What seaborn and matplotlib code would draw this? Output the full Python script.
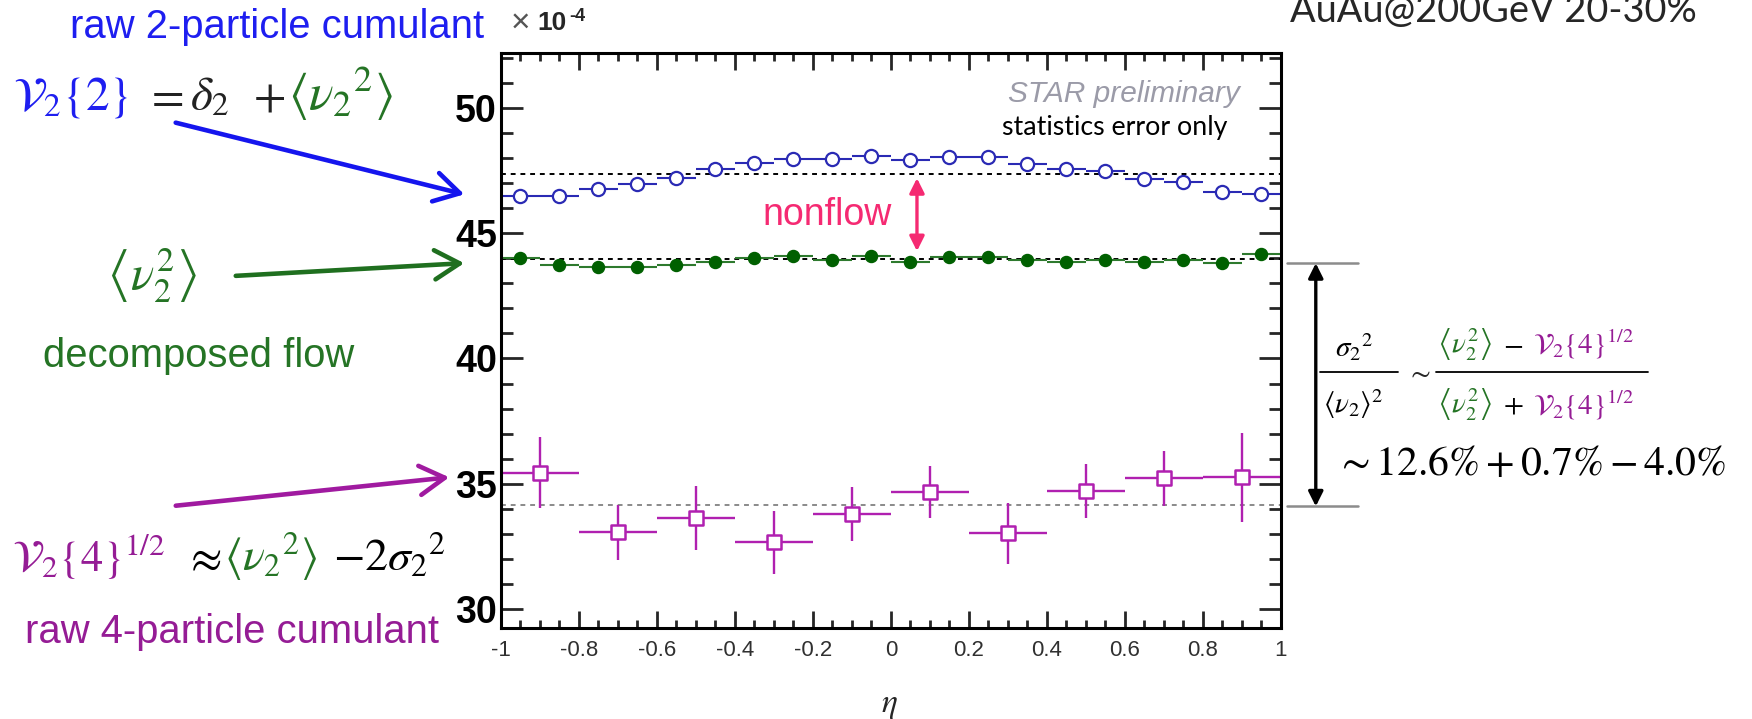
import numpy as np
import pandas as pd
import matplotlib
matplotlib.use("Agg")
import matplotlib.pyplot as plt
import matplotlib.transforms as mtransforms
from matplotlib.lines import Line2D
from matplotlib.patches import FancyArrowPatch
import seaborn as sns

# ---- data -----------------------------------------------------------------
eta_fine = [-0.95, -0.85, -0.75, -0.65, -0.55, -0.45, -0.35, -0.25, -0.15, -0.05,
            0.05, 0.15, 0.25, 0.35, 0.45, 0.55, 0.65, 0.75, 0.85, 0.95]
v2_2 = [46.48, 46.48, 46.77, 46.95, 47.21, 47.57, 47.80, 47.95, 47.95, 48.08,
        47.91, 48.02, 48.02, 47.75, 47.57, 47.47, 47.17, 47.04, 46.64, 46.57]
v2sq = [43.99, 43.73, 43.66, 43.66, 43.73, 43.86, 43.99, 44.09, 43.93, 44.09,
        43.86, 44.06, 44.06, 43.93, 43.86, 43.93, 43.86, 43.93, 43.79, 44.17]
eta_coarse = [-0.9, -0.7, -0.5, -0.3, -0.1, 0.1, 0.3, 0.5, 0.7, 0.9]
v2_4 = [35.44, 33.06, 33.64, 32.66, 33.78, 34.68, 33.03, 34.71, 35.22, 35.26]
v2_4_err = [1.42, 1.08, 1.26, 1.25, 1.08, 1.03, 1.22, 1.07, 1.09, 1.78]

mean_v2_2 = 47.37
mean_v2sq = 43.95
mean_v2_4 = 34.14

nonflow_x = 0.067
sigma_top, sigma_bottom = 43.8, 34.1

xtick_vals = [-1, -0.8, -0.6, -0.4, -0.2, 0, 0.2, 0.4, 0.6, 0.8, 1]
xtick_labels = ["-1", "-0.8", "-0.6", "-0.4", "-0.2", "0", "0.2", "0.4", "0.6", "0.8", "1"]
ytick_vals = [30, 35, 40, 45, 50]
ytick_labels = ["30", "35", "40", "45", "50"]

# ---- style ----------------------------------------------------------------
sns.set_theme(style="ticks")
plt.rcParams["font.family"] = ["Liberation Sans", "DejaVu Sans"]
plt.rcParams["mathtext.fontset"] = "stix"

BLUE_MK = "#2a2ab4"
GREEN_MK = "#006000"
MAG_MK = "#b020b0"
BLUE_TXT = "#1e1ef0"
GREEN_TXT = "#257425"
PURPLE_TXT = "#951c95"
PINK = "#f52a72"

W, H = 1752, 719
fig = plt.figure(figsize=(W / 100, H / 100), dpi=100)


def fx(x):
    return x / W


def fy(y):
    return 1 - y / H


ax = fig.add_axes([fx(501), fy(628), fx(1280.7) - fx(501), fy(53.3) - fy(628)])

df2 = pd.DataFrame({"eta": eta_fine, "v": v2_2})
dfsq = pd.DataFrame({"eta": eta_fine, "v": v2sq})
df4 = pd.DataFrame({"eta": eta_coarse, "v": v2_4, "err": v2_4_err})

# reference levels
ax.axhline(mean_v2_2, color="black", lw=1.4, ls=(0, (2.5, 2.5)), zorder=1)
ax.axhline(mean_v2sq, color="black", lw=1.4, ls=(0, (2.5, 2.5)), zorder=1)
ax.axhline(mean_v2_4, color="#8a8a8a", lw=1.4, ls=(0, (2.5, 2.5)), zorder=1)

# bin-width bars
ax.errorbar(df2["eta"], df2["v"], xerr=0.05, fmt="none", ecolor=BLUE_MK, elinewidth=1.5, zorder=2)
ax.errorbar(dfsq["eta"], dfsq["v"], xerr=0.05, fmt="none", ecolor="#2e7a2e", elinewidth=1.5, zorder=2)
ax.errorbar(df4["eta"], df4["v"], xerr=0.1, yerr=df4["err"], fmt="none", ecolor=MAG_MK,
            elinewidth=1.7, zorder=2)

sns.scatterplot(data=df2, x="eta", y="v", ax=ax, marker="o", s=90, color="white",
                edgecolor=BLUE_MK, linewidth=1.6, zorder=4, legend=False)
sns.scatterplot(data=dfsq, x="eta", y="v", ax=ax, marker="o", s=75, color=GREEN_MK,
                edgecolor=GREEN_MK, linewidth=1, zorder=4, legend=False)
sns.scatterplot(data=df4, x="eta", y="v", ax=ax, marker="s", s=100, color="white",
                edgecolor=MAG_MK, linewidth=1.8, zorder=4, legend=False)

ax.set_xlim(-1, 1)
ax.set_ylim(29.25, 52.17)
ax.set_xlabel("")
ax.set_ylabel("")
ax.set_xticks(xtick_vals, xtick_labels)
ax.set_xticks(np.arange(-1, 1.001, 0.05), minor=True)
ax.set_yticks(ytick_vals, ytick_labels, fontweight="bold", fontsize=27)
ax.set_yticks(np.arange(30, 52.5, 1), minor=True)
for sp in ax.spines.values():
    sp.set_linewidth(2.2)
    sp.set_color("black")
    sp.set_visible(True)
ax.tick_params(axis="y", which="major", direction="in", length=16, width=2,
               left=True, right=True, pad=3, labelcolor="black")
ax.tick_params(axis="y", which="minor", direction="in", length=8.5, width=2,
               left=True, right=True)
ax.tick_params(axis="x", which="major", direction="in", length=12, width=2,
               top=True, bottom=True, labelsize=16, pad=9, labelcolor="#303030")
ax.tick_params(axis="x", which="minor", direction="in", length=6, width=2,
               top=True, bottom=True)
ax.grid(False)

# in-plot notes
fig.text(fx(1008), fy(101.5), "STAR preliminary", fontsize=21.5, style="italic",
         color="#9b9ba8", va="baseline")
fig.text(fx(1002), fy(135), "statistics error only", fontsize=19.3, color="black",
         va="baseline", family=["Lato", "DejaVu Sans"])
fig.text(fx(762), fy(225), "nonflow", fontsize=27, color=PINK, va="baseline")
ax.annotate("", xy=(nonflow_x, 44.28), xytext=(nonflow_x, 47.19),
            arrowprops=dict(arrowstyle="<|-|>", color=PINK, lw=2.4, mutation_scale=22,
                            shrinkA=0, shrinkB=0))

# axis decorations
fig.text(fx(889), fy(712), r"$\eta$", fontsize=24, ha="center", va="baseline")
fig.text(fx(511), fy(32), "\u00d7", fontsize=24, color="#555555", va="baseline")
fig.text(fx(537), fy(30), "10", fontsize=19, fontweight="bold", va="baseline")
fig.text(fx(569), fy(21), "-4", fontsize=13, fontweight="bold", va="baseline")
fig.text(fx(1290), fy(22), "AuAu@200GeV 20-30%", fontsize=27.3, va="baseline",
         family=["Lato", "DejaVu Sans"])

# left-hand labels
fig.text(fx(70), fy(38), "raw 2-particle cumulant", fontsize=28.8, color=BLUE_TXT, va="baseline")
fig.text(fx(43), fy(367), "decomposed flow", fontsize=28.8, color=GREEN_TXT, va="baseline")
fig.text(fx(25), fy(643), "raw 4-particle cumulant", fontsize=28.8, color=PURPLE_TXT, va="baseline")


def piece(x, y, s, color, size):
    fig.text(fx(x), fy(y), s, color=color, fontsize=size, va="baseline", ha="left")


# V2{2} = delta2 + <v2^2>
piece(13, 110, r"$\mathcal{V}_2\{2\}$", BLUE_TXT, 34)
piece(145, 110, r"$=$", "#222222", 34)
piece(190, 110, r"$\delta_2$", "#222222", 34)
piece(253, 110, r"$+$", "#222222", 34)
piece(288, 110, r"$\left\langle {\nu_2}^{2} \right\rangle$", GREEN_TXT, 37)

# <v2^2>
piece(106, 290, r"$\left\langle \nu_2^2 \right\rangle$", GREEN_TXT, 35)

# V2{4}^{1/2} ~ <v2^2> - 2 sigma2^2
piece(12, 571, r"$\mathcal{V}_2\{4\}^{1/2}$", PURPLE_TXT, 32)
piece(184, 571, r"$\approx$", "black", 33)
piece(224, 571, r"$\left\langle {\nu_2}^{2} \right\rangle$", GREEN_TXT, 33)
piece(333, 571, r"$-2{\sigma_2}^{2}$", "black", 33)

# pointer arrows
for (x0, y0), (x1, y1), c in [((173, 122), (467, 195), "#1515ee"),
                               ((233, 276), (467, 263), "#1f6f1f"),
                               ((173, 506), (452, 477), "#a01aa0")]:
    fig.add_artist(FancyArrowPatch((fx(x0), fy(y0)), (fx(x1), fy(y1)),
                                   transform=fig.transFigure,
                                   arrowstyle="->,head_length=0.6,head_width=0.35",
                                   mutation_scale=30, lw=3.3, color=c))

# width of the fluctuation band on the right
trans = mtransforms.blended_transform_factory(ax.transAxes, ax.transData)
for yv in (sigma_top, sigma_bottom):
    ax.add_line(Line2D([1.008, 1.099], [yv, yv], transform=trans, color="#8c8c8c",
                       lw=1.8, clip_on=False))
ax.annotate("", xy=(1.045, sigma_bottom), xytext=(1.045, sigma_top),
            xycoords=trans, textcoords=trans, annotation_clip=False,
            arrowprops=dict(arrowstyle="<|-|>", color="black", lw=2.4,
                            mutation_scale=22, shrinkA=0, shrinkB=0))

# sigma2^2 / <v2>^2 relation
piece(1335, 357, r"${\sigma_2}^{2}$", "black", 21)
piece(1323, 413, r"$\left\langle \nu_2 \right\rangle^{2}$", "black", 21)
fig.add_artist(Line2D([fx(1320), fx(1398)], [fy(372), fy(372)], color="black", lw=1.3,
                      transform=fig.transFigure))
fig.text(fx(1406), fy(373), r"$\sim$", fontsize=21, va="center", ha="left")
fig.add_artist(Line2D([fx(1436), fx(1648)], [fy(372), fy(372)], color="black", lw=1.3,
                      transform=fig.transFigure))
piece(1437, 352, r"$\left\langle \nu_2^2 \right\rangle$", GREEN_TXT, 21)
piece(1503, 352, r"$-$", "black", 21)
piece(1533, 354, r"$\mathcal{V}_2\{4\}^{1/2}$", PURPLE_TXT, 21)
piece(1437, 412, r"$\left\langle \nu_2^2 \right\rangle$", GREEN_TXT, 21)
piece(1503, 412, r"$+$", "black", 21)
piece(1533, 415, r"$\mathcal{V}_2\{4\}^{1/2}$", PURPLE_TXT, 21)
piece(1335, 475, r"$\sim 12.6\% + 0.7\% - 4.0\%$", "black", 30)

fig.savefig("out.png", dpi=100)
